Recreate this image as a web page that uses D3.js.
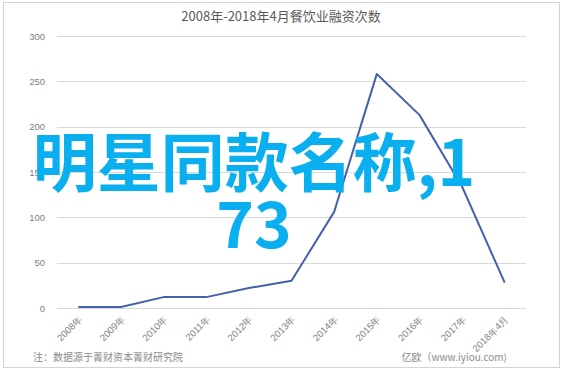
<!DOCTYPE html>
<html><head><meta charset="utf-8">
<script src="https://cdn.jsdelivr.net/npm/d3@7"></script>
<style>
html,body{margin:0;padding:0;background:#fff;}
svg{display:block;font-family:"Noto Sans CJK SC","Noto Sans",sans-serif;}
</style></head>
<body><svg id="c" width="563" height="370"></svg>
<script>
const categories = ["2008年","2009年","2010年","2011年","2012年","2013年","2014年","2015年","2016年","2017年","2018年4月"];
const values = [1, 1, 12, 12, 22, 30, 106, 258, 213, 134, 28];
const yTicks = [0, 50, 100, 150, 200, 250, 300];
const title = "2008年-2018年4月餐饮业融资次数";
const note = "注：数据源于菁财资本菁财研究院";
const source = "亿欧（www.iyiou.com)";
const overlay = ["明星同款名称,1", "73"];

const svg = d3.select("#c");
svg.append("rect").attr("x",3.5).attr("y",2.5).attr("width",556).attr("height",365)
  .attr("fill","#fff").attr("stroke","#d4d4d4");

const x = d3.scaleBand().domain(categories).range([57, 526]);
const y = d3.scaleLinear().domain([0, 300]).range([308, 36]);

// gridlines
svg.append("g").selectAll("line").data(yTicks).join("line")
  .attr("x1", 57).attr("x2", 526)
  .attr("y1", d => Math.round(y(d)) + 0.5).attr("y2", d => Math.round(y(d)) + 0.5)
  .attr("stroke", "#d9d9d9").attr("stroke-width", 1);

// y axis labels
const yAxis = d3.axisLeft(y).tickValues(yTicks).tickSize(0).tickPadding(6);
const gy = svg.append("g").attr("transform","translate(51,0)").call(yAxis);
gy.select(".domain").remove();
gy.selectAll("text").attr("fill","#7f7f7f").attr("font-size",9.5).attr("dx","0");

// x axis labels
const xAxis = d3.axisBottom(x).tickSize(0).tickPadding(0);
const gx = svg.append("g").attr("transform","translate(0,315)").call(xAxis);
gx.select(".domain").remove();
gx.selectAll("text").attr("fill","#7f7f7f").attr("font-size",9.5)
  .attr("text-anchor","end").attr("dy","0.7em").attr("dx","0")
  .attr("transform","rotate(-45)");

// line
const line = d3.line().x((d,i) => x(categories[i]) + x.bandwidth()/2).y(d => y(d));
svg.append("path").datum(values).attr("d", line)
  .attr("fill","none").attr("stroke","#4561ae").attr("stroke-width",2)
  .attr("stroke-linejoin","round");

// title
svg.append("text").attr("x", 281).attr("y", 21).attr("text-anchor","middle")
  .attr("font-size", 13).attr("fill","#595959").text(title);

// footer
svg.append("text").attr("x", 33).attr("y", 361).attr("font-size", 10).attr("fill","#8a8a8a").text(note);
svg.append("text").attr("x", 507).attr("y", 361).attr("text-anchor","end").attr("font-size", 10).attr("fill","#8a8a8a").text(source);

// overlay
svg.append("text").attr("x", 254).attr("y", 186).attr("text-anchor","middle")
  .attr("font-size", 64).attr("font-weight","bold").attr("fill","#0aaff0").text(overlay[0]);
svg.append("text").attr("x", 254).attr("y", 248).attr("text-anchor","middle")
  .attr("font-size", 64).attr("font-weight","bold").attr("fill","#0aaff0").text(overlay[1]);
</script></body></html>
